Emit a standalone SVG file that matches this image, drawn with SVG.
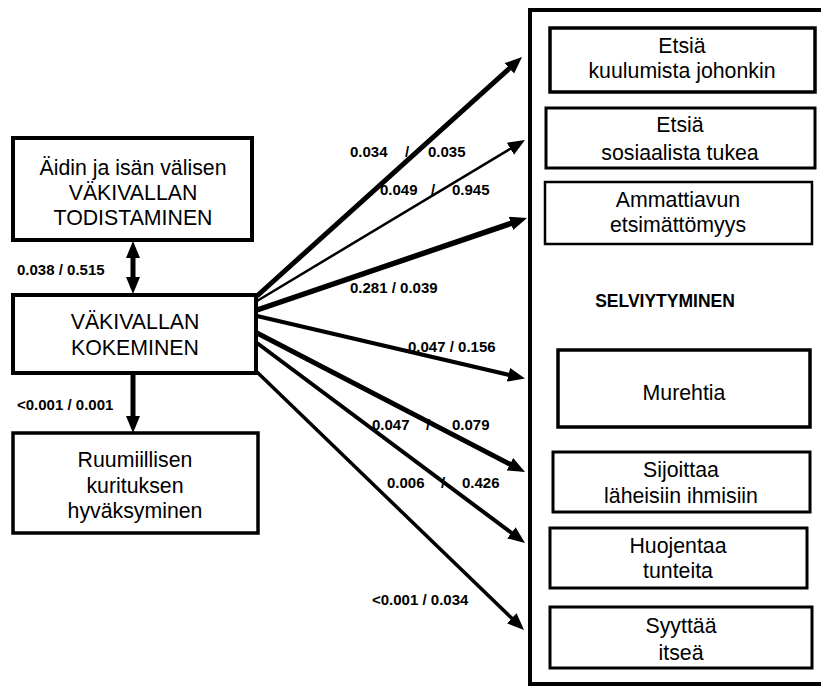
<svg xmlns="http://www.w3.org/2000/svg" width="821" height="686" viewBox="0 0 821 686">
  <style>
    .box { fill: #fff; stroke: #000; }
    .t { font-family: "Liberation Sans", Arial, sans-serif; font-size: 21.3px; fill: #000; text-anchor: middle; }
    .lbl { font-family: "Liberation Sans", Arial, sans-serif; font-size: 15px; font-weight: bold; fill: #000; }
    .title { font-family: "Liberation Sans", Arial, sans-serif; font-size: 17.5px; font-weight: bold; fill: #000; text-anchor: middle; }
    .edge { stroke: #000; fill: none; stroke-linecap: butt; }
  </style>
  <defs>
    <marker id="head" markerUnits="userSpaceOnUse" markerWidth="20" markerHeight="16" refX="2" refY="7" orient="auto-start-reverse">
      <path d="M0,0 L17,7 L0,14 z" fill="#000"/>
    </marker>
  </defs>

  <rect width="821" height="686" fill="#fff"/>

  <!-- coping container -->
  <g id="selviytyminen">
    <rect class="box" x="530" y="10" width="400" height="674" stroke-width="4"/>
    <text class="title" x="665" y="307">SELVIYTYMINEN</text>
  </g>

  <!-- left-hand nodes -->
  <g id="todistaminen">
    <rect class="box" x="13" y="138" width="239" height="102" stroke-width="4"/>
    <text class="t" x="133" y="175">Äidin ja isän välisen</text>
    <text class="t" x="133" y="200">VÄKIVALLAN</text>
    <text class="t" x="133" y="225">TODISTAMINEN</text>
  </g>
  <g id="kokeminen">
    <rect class="box" x="13" y="295" width="243" height="78" stroke-width="4"/>
    <text class="t" x="135" y="329">VÄKIVALLAN</text>
    <text class="t" x="135" y="355">KOKEMINEN</text>
  </g>
  <g id="hyvaksyminen">
    <rect class="box" x="13" y="433" width="245" height="100" stroke-width="3.5"/>
    <text class="t" x="135" y="467">Ruumiillisen</text>
    <text class="t" x="135" y="493">kurituksen</text>
    <text class="t" x="135" y="518">hyväksyminen</text>
  </g>

  <!-- coping strategies -->
  <g id="kuulumista">
    <rect class="box" x="550" y="28" width="265" height="64" stroke-width="3.5"/>
    <text class="t" x="682" y="53">Etsiä</text>
    <text class="t" x="682" y="78">kuulumista johonkin</text>
  </g>
  <g id="tukea">
    <rect class="box" x="546" y="108" width="269" height="60" stroke-width="3"/>
    <text class="t" x="680" y="132">Etsiä</text>
    <text class="t" x="680" y="160">sosiaalista tukea</text>
  </g>
  <g id="ammattiapu">
    <rect class="box" x="545" y="182" width="267" height="62" stroke-width="2.5"/>
    <text class="t" x="678" y="207">Ammattiavun</text>
    <text class="t" x="678" y="232">etsimättömyys</text>
  </g>
  <g id="murehtia">
    <rect class="box" x="558" y="350" width="252" height="77" stroke-width="3.5"/>
    <text class="t" x="684" y="400">Murehtia</text>
  </g>
  <g id="sijoittaa">
    <rect class="box" x="553" y="452" width="257" height="60" stroke-width="3"/>
    <text class="t" x="681" y="477">Sijoittaa</text>
    <text class="t" x="681" y="503">läheisiin ihmisiin</text>
  </g>
  <g id="huojentaa">
    <rect class="box" x="550" y="528" width="257" height="60" stroke-width="3"/>
    <text class="t" x="678" y="553">Huojentaa</text>
    <text class="t" x="678" y="578">tunteita</text>
  </g>
  <g id="syyttaa">
    <rect class="box" x="550" y="607" width="262" height="61" stroke-width="3"/>
    <text class="t" x="681" y="633">Syyttää</text>
    <text class="t" x="681" y="660">itseä</text>
  </g>

  <!-- connectors -->
  <g id="connectors">
    <line class="edge" x1="133" y1="256" x2="133" y2="279" stroke-width="5" marker-start="url(#head)" marker-end="url(#head)"/>
    <line class="edge" x1="133" y1="375" x2="133" y2="418" stroke-width="5" marker-end="url(#head)"/>

    <line class="edge" x1="257" y1="296" x2="510.9" y2="67" stroke-width="5" marker-end="url(#head)"/>
    <line class="edge" x1="257" y1="301" x2="512.1" y2="147.7" stroke-width="2.5" marker-end="url(#head)"/>
    <line class="edge" x1="257" y1="310" x2="512.8" y2="222.8" stroke-width="5.5" marker-end="url(#head)"/>
    <line class="edge" x1="257" y1="316" x2="510.4" y2="375.2" stroke-width="4" marker-end="url(#head)"/>
    <line class="edge" x1="257" y1="333" x2="511.7" y2="465.1" stroke-width="5" marker-end="url(#head)"/>
    <line class="edge" x1="257" y1="343" x2="513" y2="534" stroke-width="4" marker-end="url(#head)"/>
    <line class="edge" x1="257" y1="372" x2="513.2" y2="619.6" stroke-width="3.5" marker-end="url(#head)"/>
  </g>

  <!-- path coefficients -->
  <g id="labels">
    <text class="lbl" x="17" y="275">0.038 / 0.515</text>
    <text class="lbl" x="17" y="410">&lt;0.001 / 0.001</text>
    <text class="lbl" y="157"><tspan x="350">0.034</tspan><tspan x="405">/</tspan><tspan x="428">0.035</tspan></text>
    <text class="lbl" y="195"><tspan x="380">0.049</tspan><tspan x="431">/</tspan><tspan x="452">0.945</tspan></text>
    <text class="lbl" x="350" y="293">0.281 / 0.039</text>
    <text class="lbl" x="408" y="352">0.047 / 0.156</text>
    <text class="lbl" y="430"><tspan x="372">0.047</tspan><tspan x="426">/</tspan><tspan x="452">0.079</tspan></text>
    <text class="lbl" y="488"><tspan x="387">0.006</tspan><tspan x="441">/</tspan><tspan x="462">0.426</tspan></text>
    <text class="lbl" x="372" y="605">&lt;0.001 / 0.034</text>
  </g>
</svg>
